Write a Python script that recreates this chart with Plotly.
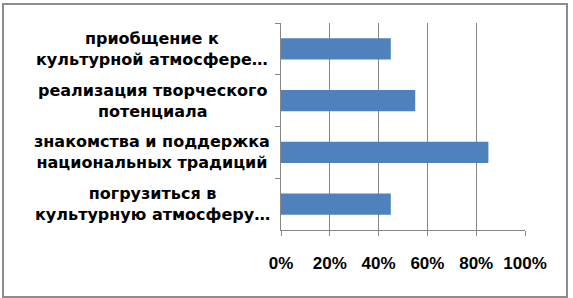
import plotly.graph_objects as go

categories = [
    "приобщение к<br>культурной атмосфере…",
    "реализация творческого<br>потенциала",
    "знакомства и поддержка<br>национальных традиций",
    "погрузиться в<br>культурную атмосферу…",
]
values = [0.45, 0.55, 0.85, 0.45]
x_ticks = [0, 0.2, 0.4, 0.6, 0.8, 1.0]
x_tick_labels = ["0%", "20%", "40%", "60%", "80%", "100%"]

W, H = 573, 298
L, R, T, B = 281, 48, 23, 68
pw, ph = W - L - R, H - T - B

def px_x(x):
    return (x - L) / pw

def px_y(y):
    return (H - B - y) / ph

fig = go.Figure()
fig.add_trace(go.Bar(
    x=values, y=categories, orientation="h",
    marker=dict(color="#4F81BD", line=dict(width=0)),
    width=0.41,
))

for c in categories:
    fig.add_annotation(
        x=px_x(152), xref="paper", y=c, yref="y",
        text=c,
        showarrow=False, xanchor="center", yanchor="middle",
        align="center",
        font=dict(family="DejaVu Sans", size=16, color="black", weight="bold"),
    )

fig.add_shape(
    type="rect", xref="paper", yref="paper",
    x0=px_x(3), x1=px_x(567), y0=px_y(297), y1=px_y(4),
    line=dict(color="#8C8C8C", width=2), fillcolor="rgba(0,0,0,0)", layer="below",
)

fig.update_layout(
    width=W, height=H,
    margin=dict(l=L, r=R, t=T, b=B, pad=0),
    paper_bgcolor="white", plot_bgcolor="white",
    showlegend=False,
    bargap=0.59,
    xaxis=dict(
        range=[0, 1], tickvals=x_ticks, ticktext=x_tick_labels,
        showgrid=True, gridcolor="#868686", gridwidth=1,
        showline=True, linecolor="#868686", linewidth=1,
        ticks="outside", ticklen=5, tickcolor="#868686",
        tickfont=dict(family="Liberation Sans", size=17, color="black", weight="bold"),
        ticklabelstandoff=13,
        zeroline=False, fixedrange=True,
    ),
    yaxis=dict(
        categoryorder="array", categoryarray=categories,
        autorange="reversed",
        showticklabels=False,
        showgrid=False,
        showline=True, linecolor="#868686", linewidth=1,
        ticks="outside", ticklen=5, tickcolor="#868686",
        tickson="boundaries",
        zeroline=False, fixedrange=True,
    ),
)

fig.write_html("out.html")
